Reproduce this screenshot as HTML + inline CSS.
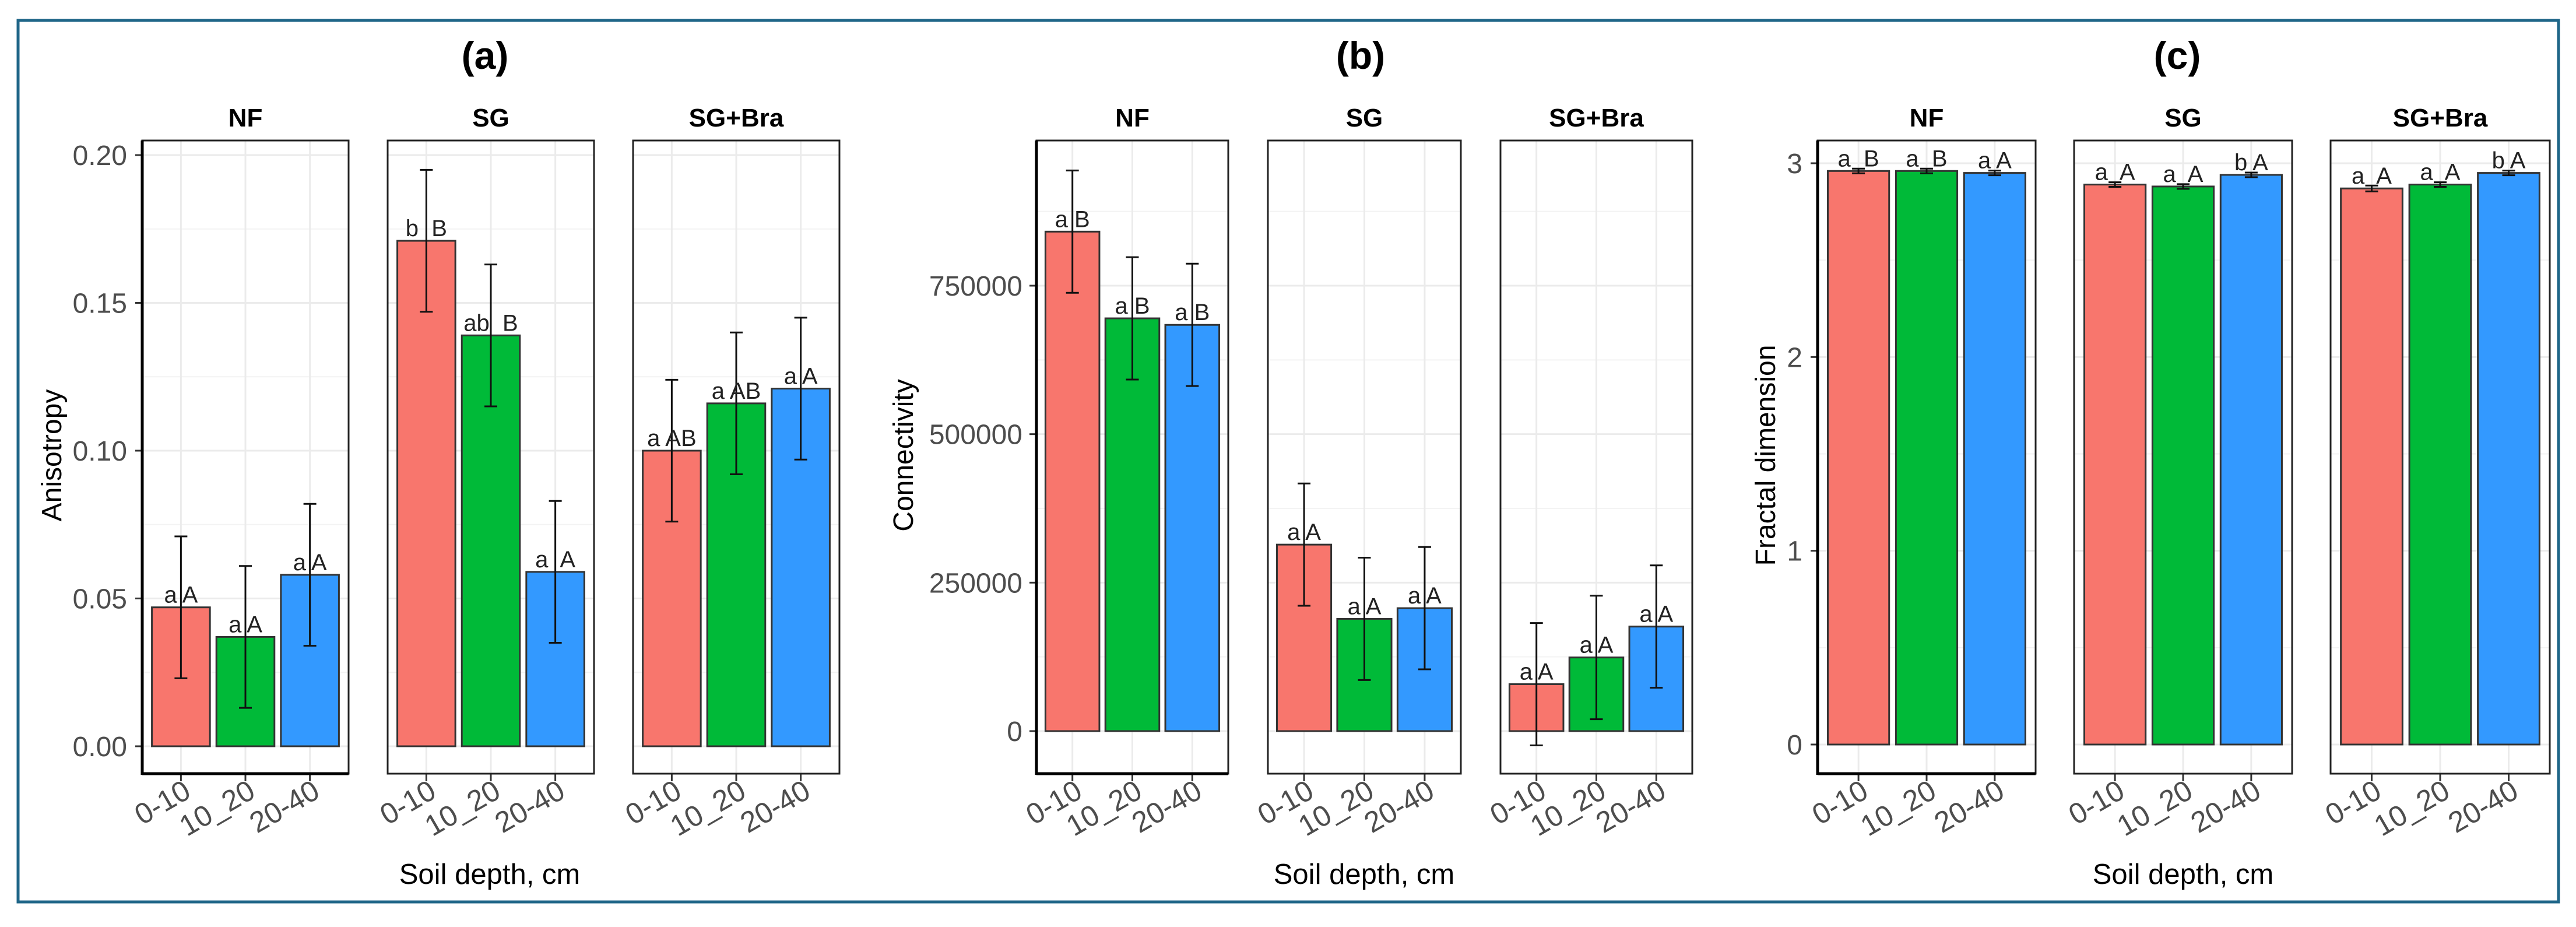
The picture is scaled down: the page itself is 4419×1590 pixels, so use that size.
<!DOCTYPE html>
<html><head><meta charset="utf-8"><style>
html,body{margin:0;padding:0;background:#fff;}
svg{display:block;font-family:"Liberation Sans",Arial,sans-serif;}
</style></head><body>
<svg id="chart" width="4419" height="1590" viewBox="0 0 4419 1590" xmlns="http://www.w3.org/2000/svg">
<rect x="31" y="35" width="4358" height="1512" fill="#fff" stroke="#1f6688" stroke-width="5"/>
</svg>
<script>
// ---------- data ----------
const categories = ["0-10", "10_20", "20-40"];
const facets = ["NF", "SG", "SG+Bra"];
// (a) Anisotropy
const anisoValues = [[0.047, 0.037, 0.058], [0.171, 0.139, 0.059], [0.100, 0.116, 0.121]];
const anisoErr = [[0.024, 0.024, 0.024], [0.024, 0.024, 0.024], [0.024, 0.024, 0.024]];
const anisoLabels = [["a A", "a A", "a A"], ["b  B", "ab  B", "a  A"], ["a AB", "a AB", "a A"]];
const anisoTicks = [0, 0.05, 0.10, 0.15, 0.20];
const anisoTickLabels = ["0.00", "0.05", "0.10", "0.15", "0.20"];
// (b) Connectivity
const connValues = [[841000, 695000, 684000], [314000, 189000, 207000], [79000, 124000, 176000]];
const connErr = [[103000, 103000, 103000], [103000, 103000, 103000], [103000, 104000, 103000]];
const connLabels = [["a B", "a B", "a B"], ["a A", "a A", "a A"], ["a A", "a A", "a A"]];
const connTicks = [0, 250000, 500000, 750000];
const connTickLabels = ["0", "250000", "500000", "750000"];
// (c) Fractal dimension
const fracValues = [[2.96, 2.96, 2.95], [2.89, 2.88, 2.94], [2.87, 2.89, 2.95]];
const fracErr = [[0.012, 0.012, 0.012], [0.012, 0.012, 0.012], [0.015, 0.012, 0.012]];
const fracLabels = [["a  B", "a  B", "a A"], ["a  A", "a  A", "b A"], ["a  A", "a  A", "b A"]];
const fracTicks = [0, 1, 2, 3];
const fracTickLabels = ["0", "1", "2", "3"];

const colors = ["#F8766D", "#00BA38", "#3399FF"];
const NS = "http://www.w3.org/2000/svg";
const svg = document.getElementById("chart");

function mk(tag, attrs, parent, text) {
  const e = document.createElementNS(NS, tag);
  for (const k in attrs) e.setAttribute(k, attrs[k]);
  if (text !== undefined) e.textContent = text;
  (parent || svg).appendChild(e);
  return e;
}

function drawChart(cfg) {
  const g = mk("g", {});
  
  
  const y = v => cfg.y0px + v * (cfg.y1px - cfg.y0px) / cfg.yTop;
  const t = mk("text", {x: cfg.titleX, y: 118, "text-anchor": "middle", "font-size": 66, "font-weight": "bold", fill: "#000"}, g, cfg.title);
  
  
  const yt = mk("text", {x: 0, y: 0, "text-anchor": "middle", "font-size": 48, fill: "#000", transform: `translate(${cfg.yTitleX},${781}) rotate(-90)`}, g, cfg.yTitle);
  
  
  const xt = mk("text", {x: cfg.xTitleX, y: 1516, "text-anchor": "middle", "font-size": 49, fill: "#000"}, g, "Soil depth, cm");
  
  
  cfg.ticks.forEach((tv, i) => {
    const tl = mk("text", {x: cfg.tickLabelX, y: y(tv) + 17, "text-anchor": "end", "font-size": 48, fill: "#4d4d4d"}, g, cfg.tickLabels[i]);
    
    
    mk("line", {x1: cfg.panels[0][0] - 12, x2: cfg.panels[0][0], y1: y(tv), y2: y(tv), stroke: "#333", "stroke-width": 3}, g);
  });
  cfg.panels.forEach((p, fi) => {
    const [px0, px1] = p;
    const pw = px1 - px0;
    const unit = pw / 3.2;
    const cxf = i => px0 + unit * (0.6 + i);
    const pg = mk("g", {}, g);
    
    
    const sl = mk("text", {x: (px0 + px1) / 2, y: 217, "text-anchor": "middle", "font-size": 44, "font-weight": "bold", fill: "#000"}, pg, facets[fi]);
    
    
    for (let k = 0; k < cfg.ticks.length; k++) {
      mk("line", {x1: px0, x2: px1, y1: y(cfg.ticks[k]), y2: y(cfg.ticks[k]), stroke: "#ebebeb", "stroke-width": 3}, pg);
      const mid = k < cfg.ticks.length - 1 ? (cfg.ticks[k] + cfg.ticks[k + 1]) / 2 : cfg.ticks[k] + (cfg.ticks[1] - cfg.ticks[0]) / 2;
      if (y(mid) > 241) mk("line", {x1: px0, x2: px1, y1: y(mid), y2: y(mid), stroke: "#f3f3f3", "stroke-width": 2}, pg);
    }
    categories.forEach((c, i) => {
      mk("line", {x1: cxf(i), x2: cxf(i), y1: 241, y2: 1327, stroke: "#ebebeb", "stroke-width": 3}, pg);
    });
    categories.forEach((c, i) => {
      const v = cfg.values[fi][i], e = cfg.err[fi][i];
      const bx = cxf(i) - unit * 0.45;
      const top = y(Math.max(v, 0)), base = y(0);
      const b = mk("rect", {x: bx, y: Math.min(top, base), width: unit * 0.9, height: Math.abs(base - top), fill: colors[i], stroke: "#333", "stroke-width": 3}, pg);
      
      
      const eg = mk("g", {stroke: "#111", "stroke-width": 3}, pg);
      
      
      mk("line", {x1: cxf(i), x2: cxf(i), y1: y(v + e), y2: y(v - e)}, eg);
      mk("line", {x1: cxf(i) - 11, x2: cxf(i) + 11, y1: y(v + e), y2: y(v + e)}, eg);
      mk("line", {x1: cxf(i) - 11, x2: cxf(i) + 11, y1: y(v - e), y2: y(v - e)}, eg);
      const lb = mk("text", {x: cxf(i), y: top - 8, "text-anchor": "middle", "font-size": 40, fill: "#222", "xml:space": "preserve", style: "white-space:pre"}, pg, cfg.labels[fi][i]);
      
      
      mk("line", {x1: cxf(i), x2: cxf(i), y1: 1327, y2: 1340, stroke: "#333", "stroke-width": 3}, pg);
      const xl = mk("text", {x: 0, y: 0, "text-anchor": "end", "font-size": 50, fill: "#4d4d4d", transform: `translate(${cxf(i) + 20},${1366}) rotate(-30)`}, pg, c);
      
      
    });
    mk("rect", {x: px0, y: 241, width: pw, height: 1086, fill: "none", stroke: "#222", "stroke-width": 3}, pg);
  });
  const p0 = cfg.panels[0];
  mk("line", {x1: p0[0], x2: p0[0], y1: 241, y2: 1329, stroke: "#000", "stroke-width": 5}, g);
  mk("line", {x1: p0[0], x2: p0[1], y1: 1327, y2: 1327, stroke: "#000", "stroke-width": 5}, g);
}

drawChart({name: "chart-anisotropy", title: "(a)", titleX: 832, yTitle: "Anisotropy", yTitleX: 105, xTitleX: 840,
  panels: [[244, 598], [665, 1019], [1086, 1440]], yTop: 0.20, y0px: 1280, y1px: 266, tickLabelX: 218,
  ticks: anisoTicks, tickLabels: anisoTickLabels, values: anisoValues, err: anisoErr, labels: anisoLabels});
drawChart({name: "chart-connectivity", title: "(b)", titleX: 2334, yTitle: "Connectivity", yTitleX: 1566, xTitleX: 2340,
  panels: [[1778, 2107], [2175, 2506], [2574, 2903]], yTop: 750000, y0px: 1254, y1px: 490, tickLabelX: 1754,
  ticks: connTicks, tickLabels: connTickLabels, values: connValues, err: connErr, labels: connLabels});
drawChart({name: "chart-fractal-dimension", title: "(c)", titleX: 3735, yTitle: "Fractal dimension", yTitleX: 3045, xTitleX: 3745,
  panels: [[3118, 3492], [3558, 3932], [3998, 4374]], yTop: 3, y0px: 1277, y1px: 280, tickLabelX: 3092,
  ticks: fracTicks, tickLabels: fracTickLabels, values: fracValues, err: fracErr, labels: fracLabels});
</script>
</body></html>
